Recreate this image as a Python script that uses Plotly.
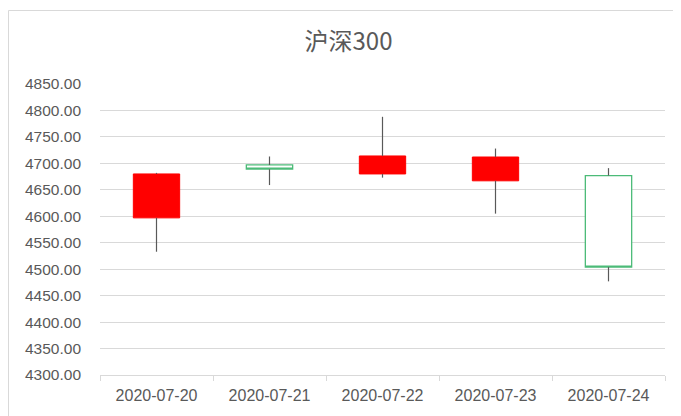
import plotly.graph_objects as go

dates = ["2020-07-20", "2020-07-21", "2020-07-22", "2020-07-23", "2020-07-24"]
open_ = [4597, 4697, 4680, 4667, 4677]
high = [4682, 4713, 4788, 4728, 4691]
low = [4533, 4659, 4673, 4605, 4477]
close = [4680, 4689, 4714, 4712, 4504]

title_text = "沪深300"

body_hi = [max(o, c) for o, c in zip(open_, close)]
body_lo = [min(o, c) for o, c in zip(open_, close)]

# wicks built from data: lower (low -> body bottom) and upper (body top -> high)
wx, wy = [], []
for d, lo, hi, blo, bhi in zip(dates, low, high, body_lo, body_hi):
    wx += [d, d, None, d, d, None]
    wy += [lo, blo, None, bhi, hi, None]

fig = go.Figure()
fig.add_trace(go.Candlestick(
    x=dates, open=open_, high=body_hi, low=body_lo, close=close,
    increasing=dict(fillcolor="#ff0000", line=dict(color="#ff0000", width=1)),
    decreasing=dict(fillcolor="#ffffff", line=dict(color="#4cbb78", width=1.3)),
    showlegend=False))
fig.add_trace(go.Scatter(x=wx, y=wy, mode="lines",
                         line=dict(color="#595959", width=1.2),
                         hoverinfo="skip", showlegend=False))

# page body has an 8px margin, so figure coordinates are shifted by 8px
W, H = 673, 408
L, T = 92, 76
pw, ph = 565, 291
R, B = W - L - pw, H - T - ph

fig.update_layout(
    width=W, height=H,
    margin=dict(l=L, r=R, t=T, b=B, pad=0),
    paper_bgcolor="white", plot_bgcolor="white",
    boxgap=0.59, boxgroupgap=0,
    title=dict(text=title_text, x=340.5 / W, xanchor="center", y=1 - 34 / H, yanchor="middle",
               font=dict(family="Noto Sans CJK SC", size=24, color="#595959")),
    font=dict(family="Liberation Sans", color="#595959"),
    xaxis=dict(type="category", rangeslider=dict(visible=False), showgrid=False,
               showline=True, linecolor="#d9d9d9", linewidth=1,
               ticks="outside", ticklen=5, tickcolor="#d9d9d9", tickson="boundaries",
               tickfont=dict(size=16, color="#595959"), ticklabelstandoff=6),
    yaxis=dict(range=[4300, 4850], dtick=50, tick0=4300, tickformat=".2f",
               showgrid=True, gridcolor="#d9d9d9", gridwidth=1, zeroline=False,
               showline=False, ticks="", ticklabelstandoff=18,
               tickfont=dict(size=15.5, color="#595959")),
    shapes=[dict(type="rect", xref="paper", yref="paper",
                 x0=(0.5 - L) / pw, x1=(W + 10 - L) / pw,
                 y0=-(H + 10 - (T + ph)) / ph, y1=1 + (T - 2.5) / ph,
                 line=dict(color="#d9d9d9", width=1), fillcolor="rgba(0,0,0,0)",
                 layer="below")],
)

fig.write_html("out.html")
